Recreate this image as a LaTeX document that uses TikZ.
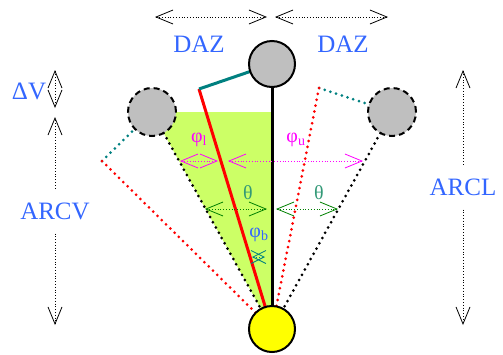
\documentclass[tikz,border=0pt]{standalone}
\usepackage{fontspec}
\setmainfont{Liberation Serif}
\usetikzlibrary{arrows.meta}
\definecolor{labelblue}{RGB}{51,102,255}
\definecolor{areagreen}{RGB}{204,255,102}
\definecolor{thetagreen}{RGB}{51,153,119}
\definecolor{arrowgreen}{RGB}{0,128,0}
\definecolor{phimagenta}{RGB}{255,0,255}
\definecolor{armteal}{RGB}{0,128,128}
\definecolor{bobyellow}{RGB}{255,255,0}
\definecolor{armred}{RGB}{255,0,0}

\begin{document}
\begin{tikzpicture}[x=1pt, y=-1pt, >={Straight Barb[length=17pt,width=14pt]},
    bob/.style={circle, draw, line width=2pt, fill=gray!50, minimum size=46pt, inner sep=0pt},
    ghost/.style={bob, dash pattern=on 6pt off 4pt, minimum size=48pt},
    beads/.style={line width=3pt, line cap=round, dash pattern=on 0pt off 6pt},
    rod/.style={line width=3pt},
    span/.style={dotted, line width=0.8pt},
    lbl/.style={font=\fontsize{25}{30}\selectfont, text=labelblue},
    ang/.style={font=\fontsize{20}{24}\selectfont}]
    \useasboundingbox (0,0) rectangle (503,354);

    % pendulum points
    \coordinate (T) at (272,64);
    \coordinate (B) at (272,329);
    \coordinate (L) at (152,112);
    \coordinate (R) at (392,112);
    \coordinate (P) at (199,89);
    \coordinate (QL) at (102,161);
    \coordinate (QR) at (319,88);

    \fill[areagreen] (L) -- (L -| T) -- (B) -- cycle;

    % dotted arms
    \draw[beads, armteal] (QL) -- (L);
    \draw[beads, armred] (QL) -- (B);
    \draw[beads, armteal] (QR) -- (R);
    \draw[beads, armred] (QR) -- (B);
    \draw[beads] (L) -- (B);
    \draw[beads] (R) -- (B);

    % solid arms
    \draw[rod] (T) -- (B);
    \draw[rod, armred] (P) -- (B);
    \draw[rod, armteal] (P) -- (T);

    \node[bob] (top) at (T) {};
    \node[bob, fill=bobyellow] (bottom) at (B) {};
    \node[ghost] (left) at (L) {};
    \node[ghost] (right) at (R) {};

    % DAZ
    \coordinate (daz1) at (155,17);
    \coordinate (daz2) at (267,17);
    \coordinate (daz3) at (275,17);
    \coordinate (daz4) at (388,17);
    \draw[span, <->] (daz1) -- (daz2);
    \draw[span, <->] (daz3) -- (daz4);
    \node[lbl] (dazl) at (199,44) {DAZ};
    \node[lbl] (dazr) at (343,44) {DAZ};

    % vertical offsets
    \coordinate (dv1) at (55,70);
    \coordinate (dv2) at (55,108);
    \draw[span, <->] (dv1) -- (dv2);
    \node[lbl] (dv) at (29,91) {ΔV};

    \node[lbl, inner ysep=14pt] (arcv) at (55,211) {ARCV};
    \coordinate (arcvtop) at (55,117);
    \coordinate (arcvbot) at (55,325);
    \draw[span, ->] (arcv) -- (arcvtop);
    \draw[span, ->] (arcv) -- (arcvbot);

    \node[lbl, inner ysep=14pt] (arcl) at (463,187) {ARCL};
    \coordinate (arcltop) at (463,70);
    \coordinate (arclbot) at (463,325);
    \draw[span, ->] (arcl) -- (arcltop);
    \draw[span, ->] (arcl) -- (arclbot);

    % angles
    \coordinate (pl1) at (180,161);
    \coordinate (pl2) at (218,161);
    \coordinate (pu1) at (228,161);
    \coordinate (pu2) at (363,161);
    \draw[span, phimagenta, <->] (pl1) -- (pl2);
    \draw[span, phimagenta, <->] (pu1) -- (pu2);
    \node[ang, text=phimagenta] (phil) at (199,140) {φ\textsubscript{l}};
    \node[ang, text=phimagenta] (phiu) at (296,140) {φ\textsubscript{u}};

    \coordinate (th1) at (205,209);
    \coordinate (th2) at (267,209);
    \coordinate (th3) at (276,209);
    \coordinate (th4) at (338,209);
    \draw[span, arrowgreen, <->] (th1) -- (th2);
    \draw[span, arrowgreen, <->] (th3) -- (th4);
    \node[ang, text=thetagreen] (thl) at (248,193) {θ};
    \node[ang, text=thetagreen] (thr) at (319,193) {θ};

    \coordinate (pb1) at (252,257);
    \coordinate (pb2) at (265,257);
    \draw[span, armteal, <->, >={Straight Barb[length=13pt,width=13pt]}] (pb1) -- (pb2);
    \node[ang, text=labelblue] (phib) at (259,235) {φ\textsubscript{b}};
\end{tikzpicture}
\end{document}
